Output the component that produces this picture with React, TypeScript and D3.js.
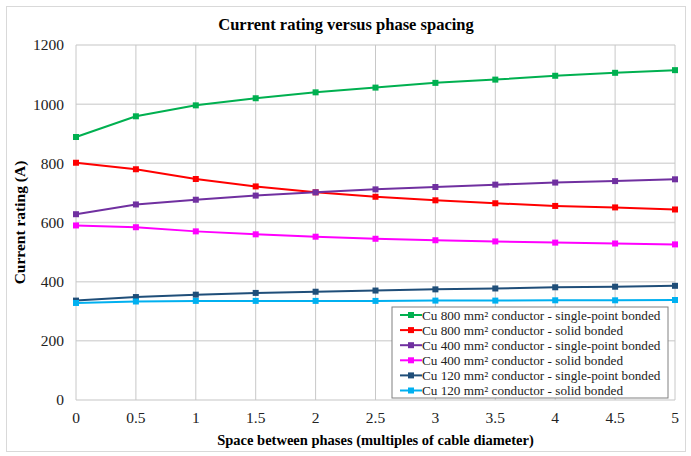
import * as React from "react";
import * as d3 from "d3";

// spacing between phases (multiples of cable diameter)
const spacing = [0, 0.5, 1, 1.5, 2, 2.5, 3, 3.5, 4, 4.5, 5];

const cu800Single = [889, 959, 996, 1020, 1040, 1056, 1072, 1083, 1096, 1106, 1115];
const cu800Solid = [802, 780, 747, 722, 702, 687, 675, 665, 656, 651, 644];
const cu400Single = [628, 661, 677, 691, 702, 712, 720, 728, 735, 740, 746];
const cu400Solid = [590, 584, 570, 560, 552, 545, 540, 536, 532, 529, 526];
const cu120Single = [336, 348, 356, 362, 366, 370, 374, 377, 381, 383, 386];
const cu120Solid = [328, 333, 335, 335, 335, 335, 336, 336, 337, 337, 338];

const seriesNames = [
  "Cu 800 mm² conductor - single-point bonded",
  "Cu 800 mm² conductor - solid bonded",
  "Cu 400 mm² conductor - single-point bonded",
  "Cu 400 mm² conductor - solid bonded",
  "Cu 120 mm² conductor - single-point bonded",
  "Cu 120 mm² conductor - solid bonded",
];
const seriesValues = [cu800Single, cu800Solid, cu400Single, cu400Solid, cu120Single, cu120Solid];
const seriesColors = ["#00b050", "#ff0000", "#7030a0", "#ff00ff", "#1f4e79", "#00b0f0"];

const yTicks = [0, 200, 400, 600, 800, 1000, 1200];

const font = "'Liberation Serif', 'Times New Roman', serif";

export default function App() {
  const W = 691, H = 456;
  const margin = { top: 45, right: 16, bottom: 56, left: 76 };
  const innerW = W - margin.left - margin.right;
  const innerH = H - margin.top - margin.bottom;

  const x = d3.scaleLinear().domain([0, 5]).range([0, innerW]);
  const y = d3.scaleLinear().domain([0, 1200]).range([innerH, 0]);

  const line = d3.line<number>()
    .x((d, i) => x(spacing[i]))
    .y(d => y(d));

  // legend placement
  const lg = { x: 392, y: 307, w: 276, h: 91, row: 15.1 };

  return (
    <svg width={W} height={H} style={{ position: "absolute", left: 0, top: 0, background: "#fff" }}>
      <rect x={6.5} y={6.5} width={679} height={445} fill="#fff" stroke="#d9d9d9" strokeWidth={1} />
      <text x={346} y={30} textAnchor="middle" fontFamily={font} fontWeight="bold" fontSize={16.5}>
        Current rating versus phase spacing
      </text>

      <g transform={`translate(${margin.left},${margin.top})`}>
        {/* horizontal grid */}
        {yTicks.map(t => (
          <line key={"h" + t} x1={0} x2={innerW} y1={y(t)} y2={y(t)} stroke="#d9d9d9" strokeWidth={1.5} />
        ))}
        {/* vertical grid */}
        {spacing.map(s => (
          <line key={"v" + s} x1={x(s)} x2={x(s)} y1={0} y2={innerH} stroke="#c8c8c8" strokeWidth={1} />
        ))}

        {/* y tick labels */}
        {yTicks.map(t => (
          <text key={"yt" + t} x={-12} y={y(t)} dy="0.35em" textAnchor="end" fontFamily={font} fontSize={15.5} fill="#222">
            {t}
          </text>
        ))}
        {/* x tick labels */}
        {spacing.map(s => (
          <text key={"xt" + s} x={x(s)} y={innerH + 23} textAnchor="middle" fontFamily={font} fontSize={15.5} fill="#222">
            {d3.format("")(s)}
          </text>
        ))}

        {/* series */}
        {seriesValues.map((vals, si) => (
          <g key={"s" + si}>
            <path d={line(vals) || ""} fill="none" stroke={seriesColors[si]} strokeWidth={2} />
            {vals.map((v, i) => (
              <rect key={i} x={x(spacing[i]) - 3} y={y(v) - 3} width={6} height={6} fill={seriesColors[si]} />
            ))}
          </g>
        ))}
      </g>

      {/* axis titles */}
      <text x={margin.left + innerW / 2} y={445} textAnchor="middle" fontFamily={font} fontWeight="bold" fontSize={14.5}>
        Space between phases (multiples of cable diameter)
      </text>
      <text transform={`translate(25,${margin.top + innerH / 2}) rotate(-90)`} textAnchor="middle" fontFamily={font} fontWeight="bold" fontSize={15.5}>
        Current rating (A)
      </text>

      {/* legend */}
      <rect x={lg.x} y={lg.y} width={lg.w} height={lg.h} fill="#fff" stroke="#808080" strokeWidth={1} />
      {seriesNames.map((n, i) => {
        const cy = lg.y + 8 + i * lg.row;
        return (
          <g key={"l" + i}>
            <line x1={lg.x + 8} x2={lg.x + 30} y1={cy} y2={cy} stroke={seriesColors[i]} strokeWidth={2} />
            <rect x={lg.x + 16} y={cy - 3} width={6} height={6} fill={seriesColors[i]} />
            <text x={lg.x + 30} y={cy} dy="0.35em" fontFamily={font} fontSize={13.2} fill="#222">
              {n}
            </text>
          </g>
        );
      })}
    </svg>
  );
}
